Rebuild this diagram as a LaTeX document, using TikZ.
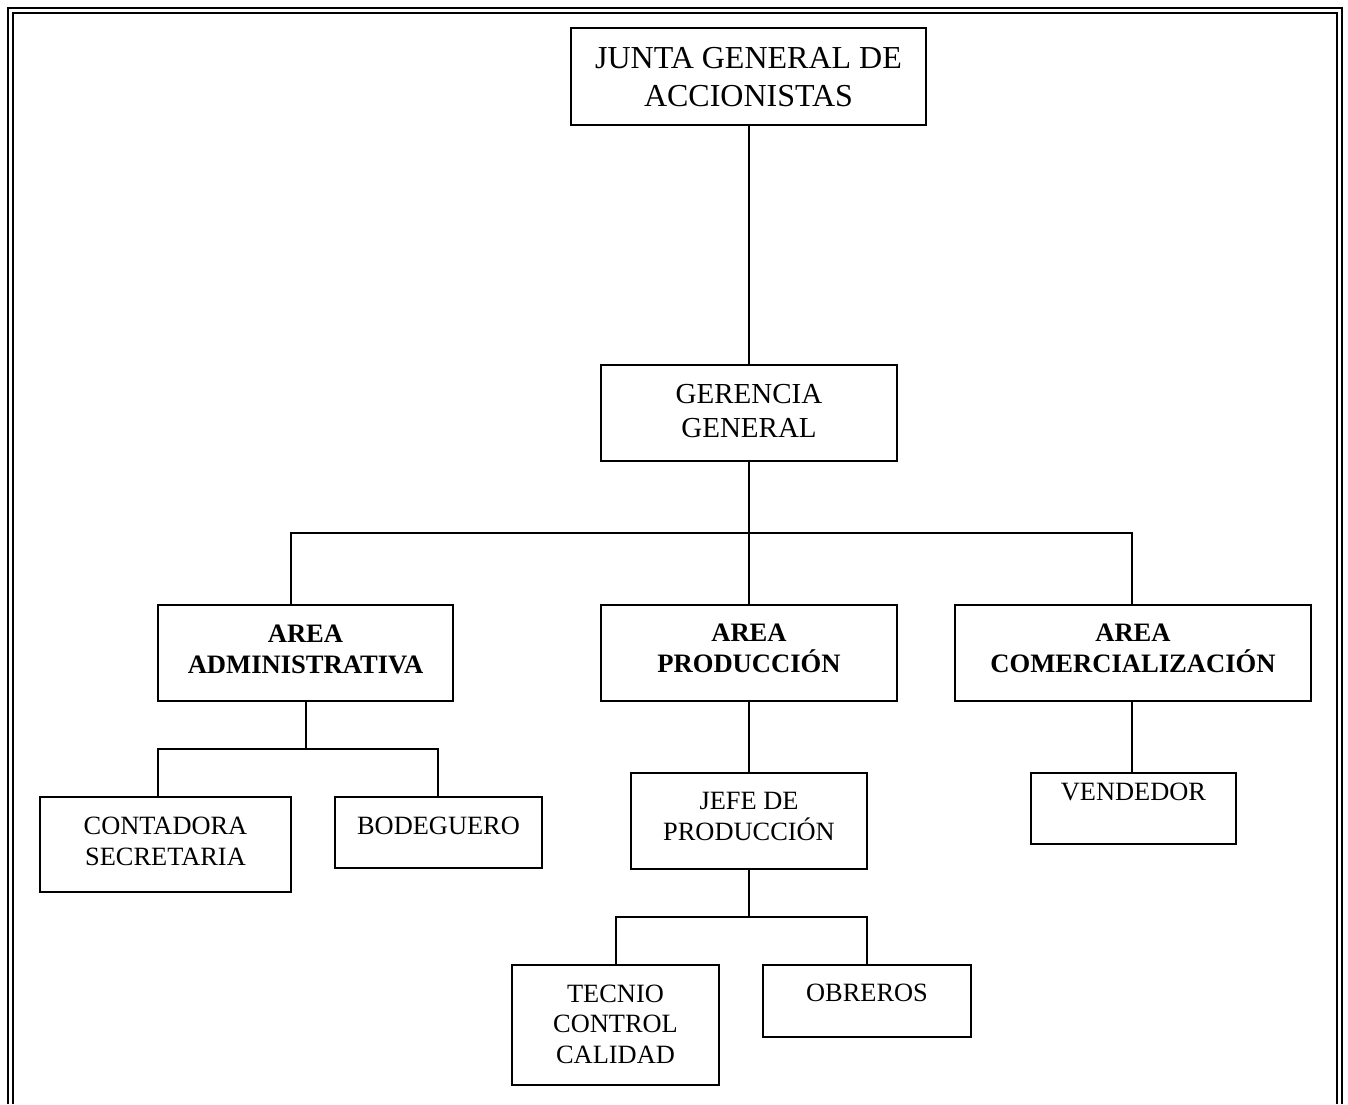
\documentclass[tikz,border=0pt]{standalone}
\usepackage{fontspec}
\setmainfont{Liberation Serif}
\usetikzlibrary{fit}
\begin{document}
\begin{tikzpicture}[x=0.5pt,y=-0.5pt,
  box/.style={draw=black,line width=1pt,inner sep=0pt,rectangle},
  txt/.style={anchor=base,align=center,inner sep=0pt,font=\fontsize{13.2}{15.25}\selectfont},
  btxt/.style={txt,font=\fontsize{13.3}{15.25}\selectfont\bfseries},
  link/.style={draw=black,line width=1pt},
  frame/.style={draw=black,line width=1pt}]
\useasboundingbox (0,0) rectangle (1348,1104);
% page frame (double line)
\draw[frame] (7.5,1104) -- (7.5,7.5) -- (1342,7.5) -- (1342,1104);
\draw[frame] (13,1104) -- (13,13) -- (1337,13) -- (1337,1104);
% boxes
\node[box,fit={(571,28) (926,125)}] (junta) {};
\node[box,fit={(601,365) (897,461)}] (ger) {};
\node[box,fit={(158,605) (453,701)}] (adm) {};
\node[box,fit={(601,605) (897,701)}] (prod) {};
\node[box,fit={(955,605) (1311,701)}] (com) {};
\node[box,fit={(40,797) (291,892)}] (cont) {};
\node[box,fit={(335,797) (542,868)}] (bod) {};
\node[box,fit={(631,773) (867,869)}] (jefe) {};
\node[box,fit={(1031,773) (1236,844)}] (vend) {};
\node[box,fit={(512,965) (719,1085)}] (tec) {};
\node[box,fit={(763,965) (971,1037)}] (obr) {};
% texts (anchor base = baseline of last line)
\node[txt,font=\fontsize{16}{19}\selectfont] (tjunta) at (748.5,106) {JUNTA GENERAL DE\\ACCIONISTAS};
\node[txt,font=\fontsize{14.5}{17}\selectfont] (tger) at (749,437) {GERENCIA\\GENERAL};
\node[btxt] (tadm) at (305.5,673) {AREA\\ADMINISTRATIVA};
\node[btxt] (tprod) at (749,672) {AREA\\PRODUCCIÓN};
\node[btxt] (tcom) at (1133,672) {AREA\\COMERCIALIZACIÓN};
\node[txt] (tcont) at (165.5,865) {CONTADORA\\SECRETARIA};
\node[txt] (tbod) at (438.5,834.5) {BODEGUERO};
\node[txt] (tjefe) at (749,840) {JEFE DE\\PRODUCCIÓN};
\node[txt] (tvend) at (1133.5,800) {VENDEDOR};
\node[txt] (ttec) at (615.5,1063) {TECNIO\\CONTROL\\CALIDAD};
\node[txt] (tobr) at (867,1001) {OBREROS};
% branch points
\coordinate (b1) at (749,533);
\coordinate (b1l) at (291,533);
\coordinate (b1r) at (1132,533);
\coordinate (b2) at (306,749);
\coordinate (b2l) at (158,749);
\coordinate (b2r) at (438,749);
\coordinate (b3) at (749,917);
\coordinate (b3l) at (616,917);
\coordinate (b3r) at (867,917);
% connectors
\draw[link] (ger.north |- junta.south) -- (ger.north);
\draw[link] (ger.south) -- (b1) -- (prod.north);
\draw[link] (b1l |- adm.north) -- (b1l) -- (b1r) -- (b1r |- com.north);
\draw[link] (b2 |- adm.south) -- (b2);
\draw[link] (b2l |- cont.north) -- (b2l) -- (b2r) -- (b2r |- bod.north);
\draw[link] (prod.south) -- (jefe.north);
\draw[link] (jefe.south) -- (b3);
\draw[link] (b3l |- tec.north) -- (b3l) -- (b3r) -- (b3r |- obr.north);
\draw[link] (b1r |- com.south) -- (b1r |- vend.north);
\end{tikzpicture}
\end{document}
